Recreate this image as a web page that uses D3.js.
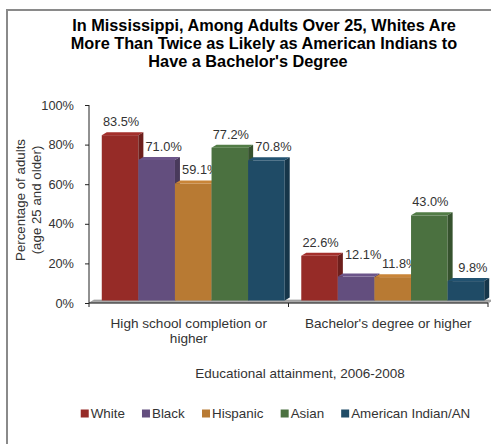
<!DOCTYPE html>
<head>
  <meta charset="utf-8">
  <script src="https://d3js.org/d3.v7.min.js"></script>
  <style>
    body { margin: 0; background: #fff; }
    svg { font-family: "Liberation Sans", Arial, sans-serif; }
    .title { font-weight: bold; font-size: 16.3px; fill: #000; }
    .axis text { font-size: 12.8px; fill: #333; }
    .axis path, .axis line { stroke: #222; }
    .lbl { font-size: 12.8px; fill: #333; }
  </style>
</head>

<body>
  <script>
    var categories = ["High school completion or higher", "Bachelor's degree or higher"];
    var categoryLines = [["High school completion or", "higher"], ["Bachelor's degree or higher"]];
    var series = ["White", "Black", "Hispanic", "Asian", "American Indian/AN"];
    var colors = ["#962b27", "#634e7e", "#b87a33", "#4b7140", "#1f4b66"];
    var highSchool = [83.5, 71.0, 59.1, 77.2, 70.8];
    var bachelors = [22.6, 12.1, 11.8, 43.0, 9.8];
    var yTicks = [0, 20, 40, 60, 80, 100];
    var titleLines = [
      "In Mississippi, Among Adults Over 25, Whites Are",
      "More Than Twice as Likely as American Indians to",
      "Have a Bachelor's Degree"
    ];

    var W = 491, H = 444;
    var dx = 5, dy = -3;      // depth of the 3d bars
    var sx = 4.5, sy = -2.5;  // bars sit back on the floor

    var svg = d3.select("body").append("svg")
      .attr("width", W)
      .attr("height", H);

    // outer frame (runs off the right and bottom)
    svg.append("path")
      .attr("d", "M7," + (H + 5) + " V10 H" + (W + 5))
      .attr("fill", "none")
      .attr("stroke", "#8a8a8a")
      .attr("stroke-width", 2);

    svg.append("g").selectAll("text")
      .data(titleLines)
      .enter().append("text")
      .attr("class", "title")
      .attr("x", function(d, i) { return i == 2 ? 248 : 264; })
      .attr("y", function(d, i) { return 31 + i * 18; })
      .attr("text-anchor", "middle")
      .text(function(d) { return d; });

    var x0 = d3.scaleBand()
      .domain(categories)
      .range([89, 488])
      .paddingInner(0.083)
      .paddingOuter(0.0415);

    var x1 = d3.scaleBand()
      .domain(series)
      .range([0, x0.bandwidth()]);

    var y = d3.scaleLinear()
      .domain([0, 100])
      .range([303, 105]);

    // floor
    var fl = x0.range();
    svg.append("path")
      .attr("d", "M" + fl[0] + "," + y(0) + " L" + fl[1] + "," + y(0) +
        " L" + (fl[1] + dx) + "," + (y(0) + dy) + " L" + (fl[0] + dx) + "," + (y(0) + dy) + "Z")
      .attr("fill", "#a8a8a8")
      .attr("stroke", "#8c8c8c")
      .attr("stroke-width", 0.6);

    var data = [];
    [highSchool, bachelors].forEach(function(vals, ci) {
      vals.forEach(function(v, si) {
        data.push({ cat: categories[ci], s: series[si], si: si, v: v, prev: si > 0 ? vals[si - 1] : null });
      });
    });

    var bars = svg.append("g").selectAll("g")
      .data(data)
      .enter().append("g");

    function bx(d) { return x0(d.cat) + x1(d.s) + sx; }
    function btop(d) { return y(d.v) + sy; }
    var bbot = y(0) + sy;
    var bw = x1.bandwidth();

    bars.append("rect")
      .attr("x", bx)
      .attr("y", btop)
      .attr("width", bw)
      .attr("height", function(d) { return bbot - btop(d); })
      .attr("fill", function(d) { return colors[d.si]; });

    bars.append("path")
      .attr("d", function(d) {
        var x = bx(d), t = btop(d);
        return "M" + x + "," + t + " L" + (x + dx) + "," + (t + dy) + " L" + (x + bw + dx) + "," + (t + dy) + " L" + (x + bw) + "," + t + "Z";
      })
      .attr("fill", function(d) { return d3.color(colors[d.si]).brighter(0.25); });

    bars.append("path")
      .attr("d", function(d) {
        var x = bx(d) + bw, t = btop(d);
        return "M" + x + "," + t + " L" + (x + dx) + "," + (t + dy) + " L" + (x + dx) + "," + (bbot + dy) + " L" + x + "," + bbot + "Z";
      })
      .attr("fill", function(d) { return d3.color(colors[d.si]).darker(0.9); });

    // value labels, nudged right when the bar to the left is taller
    var labels = bars.append("text")
      .attr("class", "lbl")
      .attr("x", function(d) { return bx(d) + bw / 2 + 1 + (d.prev != null && d.prev > d.v ? 6 : 0); })
      .attr("y", function(d) { return btop(d) + dy - 6; })
      .attr("text-anchor", "middle")
      .text(function(d) { return d3.format(".1f")(d.v) + "%"; });

    // lift a label when the next one would run into it
    var nodes = labels.nodes();
    for (var i = nodes.length - 2; i >= 0; i--) {
      var a = nodes[i].getBBox(), b = nodes[i + 1].getBBox();
      if (a.x + a.width > b.x - 4 && a.x < b.x && Math.abs(a.y - b.y) < a.height) {
        d3.select(nodes[i]).attr("y", +d3.select(nodes[i + 1]).attr("y") - 9);
      }
    }

    // y axis
    svg.append("g")
      .attr("class", "axis")
      .attr("transform", "translate(89,0)")
      .call(d3.axisLeft(y).tickValues(yTicks).tickSize(4).tickPadding(11)
        .tickFormat(function(d) { return d + "%"; }))
      .call(function(g) { g.select(".domain").attr("d", "M0," + y(100) + "V" + y(0)); });

    // x axis
    var xAxis = svg.append("g")
      .attr("class", "axis")
      .attr("transform", "translate(0," + y(0) + ")")
      .call(d3.axisBottom(x0).tickSize(0).tickFormat(""))
      .call(function(g) { g.select(".domain").attr("d", "M" + fl[0] + ",0H" + fl[1]); });

    var bounds = categories.map(function(c) { return x0(c) - x0.step() * x0.paddingInner() / 2; });
    bounds.push(fl[1]);
    xAxis.selectAll(".bt")
      .data(bounds)
      .enter().append("line")
      .attr("x1", function(d) { return d; })
      .attr("x2", function(d) { return d; })
      .attr("y1", 0)
      .attr("y2", 4)
      .attr("stroke", "#222");

    var catText = xAxis.selectAll(".cat")
      .data(categories)
      .enter().append("text")
      .attr("text-anchor", "middle")
      .attr("fill", "#333")
      .style("font-size", "13.6px")
      .attr("transform", function(d) { return "translate(" + (x0(d) + x0.bandwidth() / 2) + ",25)"; });
    catText.selectAll("tspan")
      .data(function(d, i) { return categoryLines[i]; })
      .enter().append("tspan")
      .attr("x", 0)
      .attr("y", function(d, i) { return i * 15; })
      .text(function(d) { return d; });

    // axis titles
    svg.append("text")
      .attr("class", "lbl")
      .style("font-size", "13.3px")
      .attr("transform", "translate(21,200) rotate(-90)")
      .attr("text-anchor", "middle")
      .selectAll("tspan")
      .data(["Percentage of adults", "(age 25 and older)"])
      .enter().append("tspan")
      .attr("x", 0)
      .attr("dy", function(d, i) { return i ? 15.5 : 4; })
      .text(function(d) { return d; });

    svg.append("text")
      .attr("class", "lbl")
      .style("font-size", "13.5px")
      .attr("x", 300)
      .attr("y", 378)
      .attr("text-anchor", "middle")
      .text("Educational attainment, 2006-2008");

    // legend
    var legend = svg.append("g");
    var items = legend.selectAll("g")
      .data(series)
      .enter().append("g");
    items.append("rect")
      .attr("width", 8)
      .attr("height", 8)
      .attr("y", -8.5)
      .attr("fill", function(d, i) { return colors[i]; });
    items.append("text")
      .attr("class", "lbl")
      .style("font-size", "13.4px")
      .attr("x", 10)
      .attr("y", 0)
      .text(function(d) { return d; });
    var lx = 0;
    items.each(function() {
      var w = this.getBBox().width;
      d3.select(this).attr("transform", "translate(" + lx + ",418)");
      lx += w + 17;
    });
    var total = lx - 17;
    legend.attr("transform", "translate(" + (275.5 - total / 2) + ",0)");
  </script>
</body>
